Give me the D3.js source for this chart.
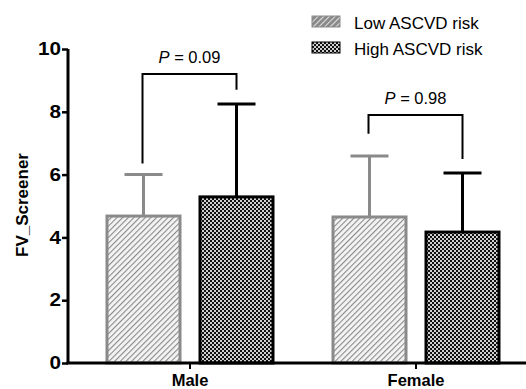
<!DOCTYPE html>
<html>
<head>
<meta charset="utf-8">
<script src="https://cdn.jsdelivr.net/npm/d3@7"></script>
<style>
  body { margin: 0; background: #fff; }
  text { font-family: "Liberation Sans", Arial, sans-serif; }
</style>
</head>
<body>
<div id="canvas"></div>
<script>
"use strict"

// data
let groups = ["Male", "Female"];
let series = ["Low ASCVD risk", "High ASCVD risk"];
let means = [[4.68, 5.29], [4.65, 4.17]];   // [group][series]
let errTop = [[6.0, 8.25], [6.59, 6.05]];   // upper end of error bar
let yTicks = [0, 2, 4, 6, 8, 10];
let pLabels = ["0.09", "0.98"];
let bracketTop = [9.2, 7.9];                // y value of bracket top
let bracketLegs = [[6.35, 8.7], [7.3, 6.5]]; // where each leg stops

let drawing = d3.select("#canvas")
    .append("svg")
    .attr("width", 526)
    .attr("height", 389);

let defs = drawing.append("defs");

// diagonal hatch for low risk
let hatch = defs.append("pattern")
    .attr("id", "hatch")
    .attr("patternUnits", "userSpaceOnUse")
    .attr("width", 4)
    .attr("height", 4)
    .attr("patternTransform", "rotate(45)");
hatch.append("rect").attr("width", 4).attr("height", 4).attr("fill", "#f4f4f4");
hatch.append("line")
    .attr("x1", 0).attr("y1", 0).attr("x2", 0).attr("y2", 4)
    .attr("stroke", "#8a8a8a")
    .attr("stroke-width", 2.2);

// checkerboard for high risk
let check = defs.append("pattern")
    .attr("id", "check")
    .attr("patternUnits", "userSpaceOnUse")
    .attr("width", 4)
    .attr("height", 4);
check.append("rect").attr("width", 4).attr("height", 4).attr("fill", "#111");
check.append("rect").attr("width", 2).attr("height", 2).attr("fill", "#d0d0d0");
check.append("rect").attr("x", 2).attr("y", 2).attr("width", 2).attr("height", 2).attr("fill", "#d0d0d0");

// legend swatch pattern (white marks on grey)
let hatchL = defs.append("pattern")
    .attr("id", "hatchL")
    .attr("patternUnits", "userSpaceOnUse")
    .attr("width", 4)
    .attr("height", 4)
    .attr("patternTransform", "rotate(45)");
hatchL.append("rect").attr("width", 4).attr("height", 4).attr("fill", "#8a8a8a");
hatchL.append("line")
    .attr("x1", 0).attr("y1", 0).attr("x2", 0).attr("y2", 4)
    .attr("stroke", "#fff")
    .attr("stroke-width", 1.5);

let strokeCol = ["#8a8a8a", "#000"];
let fillId = ["url(#hatch)", "url(#check)"];
let stretch = 1.15; // the reference tick numbers look a bit wide

let y = d3.scaleLinear().domain([0, 10]).range([363, 49]);
let x = d3.scaleBand().domain(groups).range([77, 529]);
let xInner = d3.scaleBand().domain(series).range([-84.5, 84.5])
    .paddingInner(17 / 93);

// bars
groups.forEach(function (g, gi) {
    series.forEach(function (s, si) {
        let cx = x(g) + x.bandwidth() / 2;
        let bx = cx + xInner(s);
        let bw = xInner.bandwidth();

        // error bar (upper only)
        drawing.append("line")
            .attr("x1", bx + bw / 2).attr("x2", bx + bw / 2)
            .attr("y1", y(means[gi][si])).attr("y2", y(errTop[gi][si]))
            .attr("stroke", strokeCol[si])
            .attr("stroke-width", 3);
        drawing.append("line")
            .attr("x1", bx + bw / 2 - 19).attr("x2", bx + bw / 2 + 19)
            .attr("y1", y(errTop[gi][si])).attr("y2", y(errTop[gi][si]))
            .attr("stroke", strokeCol[si])
            .attr("stroke-width", 3);

        drawing.append("rect")
            .attr("x", bx + 1.5)
            .attr("y", y(means[gi][si]))
            .attr("width", bw - 3)
            .attr("height", y(0) - y(means[gi][si]))
            .attr("fill", fillId[si])
            .attr("stroke", strokeCol[si])
            .attr("stroke-width", 3);
    });

    // significance bracket
    let x1 = x(g) + x.bandwidth() / 2 + xInner(series[0]) + xInner.bandwidth() / 2 - 1;
    let x2 = x(g) + x.bandwidth() / 2 + xInner(series[1]) + xInner.bandwidth() / 2;
    drawing.append("path")
        .attr("d", "M" + x1 + "," + y(bracketLegs[gi][0]) +
                   "V" + y(bracketTop[gi]) +
                   "H" + x2 +
                   "V" + y(bracketLegs[gi][1]))
        .attr("fill", "none")
        .attr("stroke", "#000")
        .attr("stroke-width", 2);

    let pt = drawing.append("text")
        .attr("x", (x1 + x2) / 2)
        .attr("y", y(bracketTop[gi]) - 11)
        .attr("text-anchor", "middle")
        .attr("font-size", 16.5);
    pt.append("tspan").attr("font-style", "italic").text("P");
    pt.append("tspan").text(" = " + pLabels[gi]);
});

// y axis
let yAxis = drawing.append("g")
    .attr("transform", "translate(68,0)")
    .call(d3.axisLeft(y).tickValues(yTicks).tickSize(6).tickPadding(1));
yAxis.select(".domain").attr("stroke-width", 3).attr("d", "M0," + y(10) + "V" + y(0));
yAxis.selectAll(".tick line").attr("stroke-width", 2.5);
yAxis.selectAll(".tick text")
    .attr("font-size", 18)
    .attr("font-weight", "bold")
    .attr("font-family", "Liberation Sans, Arial, sans-serif")
    .attr("fill", "#000")
    .attr("x", -7 / stretch)
    .attr("transform", "scale(" + stretch + ",1)");

// x axis
let xAxis = drawing.append("g")
    .attr("transform", "translate(0," + y(0) + ")")
    .call(d3.axisBottom(x).tickSize(6).tickPadding(5));
xAxis.select(".domain").attr("stroke-width", 3).attr("d", "M66.5,0H526");
xAxis.selectAll(".tick line").attr("stroke-width", 2);
xAxis.selectAll(".tick text")
    .attr("font-size", 16.5)
    .attr("font-weight", "bold")
    .attr("font-family", "Liberation Sans, Arial, sans-serif")
    .attr("fill", "#000");

// y label
drawing.append("text")
    .attr("transform", "translate(28,205) rotate(-90)")
    .attr("text-anchor", "middle")
    .attr("font-size", 17)
    .attr("font-weight", "bold")
    .text("FV_Screener");

// legend
series.forEach(function (s, si) {
    let ly = 16 + si * 26;
    drawing.append("rect")
        .attr("x", 312).attr("y", ly)
        .attr("width", 28).attr("height", 11)
        .attr("fill", si == 0 ? "url(#hatchL)" : "url(#check)")
        .attr("stroke", si == 0 ? "#8a8a8a" : "#000")
        .attr("stroke-width", 1);
    drawing.append("text")
        .attr("x", 354).attr("y", ly + 12.5)
        .attr("font-size", 17)
        .text(s);
});
</script>
</body>
</html>
